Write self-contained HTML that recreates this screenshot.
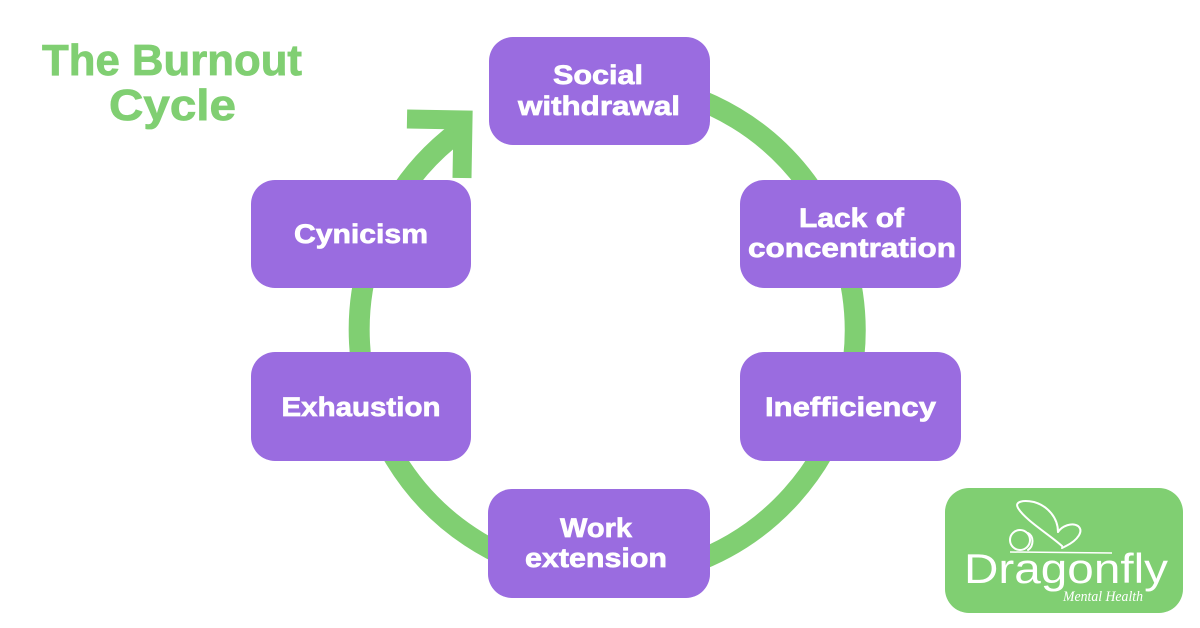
<!DOCTYPE html>
<html>
<head>
<meta charset="utf-8">
<style>
  html, body { margin: 0; padding: 0; background: #ffffff; }
  svg { display: block; }
  .t { font-family: "Liberation Sans", sans-serif; font-weight: bold; fill: #ffffff; font-size: 27px; stroke: #ffffff; stroke-width: 0.7px; }
  .title { font-family: "Liberation Sans", sans-serif; font-weight: bold; fill: #80cf72; font-size: 44px; stroke: #80cf72; stroke-width: 0.8px; }
</style>
</head>
<body>
<svg width="1200" height="628" viewBox="0 0 1200 628" xmlns="http://www.w3.org/2000/svg">
  <rect x="0" y="0" width="1200" height="628" fill="#ffffff"/>

  <!-- Title -->
  <text class="title" x="172" y="75" text-anchor="middle" textLength="260" lengthAdjust="spacingAndGlyphs">The Burnout</text>
  <text class="title" x="172.5" y="120" text-anchor="middle" textLength="127" lengthAdjust="spacingAndGlyphs">Cycle</text>

  <!-- Ring -->
  <path d="M 607 82 A 248 248 0 1 1 449 139 L 462 128" fill="none" stroke="#80cf72" stroke-width="21"/>
  <!-- Arrowhead -->
  <polyline points="407,119 463,120 462,178" fill="none" stroke="#80cf72" stroke-width="19" stroke-linejoin="miter" stroke-miterlimit="10"/>

  <!-- Boxes -->
  <g fill="#9a6ce0">
    <rect x="489" y="37" width="221" height="108" rx="24"/>
    <rect x="251" y="180" width="220" height="108" rx="24"/>
    <rect x="740" y="180" width="221" height="108" rx="24"/>
    <rect x="251" y="352" width="220" height="109" rx="24"/>
    <rect x="740" y="352" width="221" height="109" rx="24"/>
    <rect x="488" y="489" width="222" height="109" rx="24"/>
  </g>

  <!-- Box labels -->
  <text class="t" x="598" y="84" text-anchor="middle" textLength="90" lengthAdjust="spacingAndGlyphs">Social</text>
  <text class="t" x="599" y="115" text-anchor="middle" textLength="162" lengthAdjust="spacingAndGlyphs">withdrawal</text>

  <text class="t" x="361" y="243" text-anchor="middle" textLength="134" lengthAdjust="spacingAndGlyphs">Cynicism</text>

  <text class="t" x="851.5" y="227" text-anchor="middle" textLength="105" lengthAdjust="spacingAndGlyphs">Lack of</text>
  <text class="t" x="852" y="257" text-anchor="middle" textLength="208" lengthAdjust="spacingAndGlyphs">concentration</text>

  <text class="t" x="361" y="416" text-anchor="middle" textLength="159" lengthAdjust="spacingAndGlyphs">Exhaustion</text>

  <text class="t" x="850.5" y="416" text-anchor="middle" textLength="171" lengthAdjust="spacingAndGlyphs">Inefficiency</text>

  <text class="t" x="596" y="537" text-anchor="middle" textLength="72" lengthAdjust="spacingAndGlyphs">Work</text>
  <text class="t" x="596" y="567" text-anchor="middle" textLength="142" lengthAdjust="spacingAndGlyphs">extension</text>

  <!-- Logo -->
  <rect x="945" y="488" width="238" height="125" rx="24" fill="#80cf72"/>
  <g fill="none" stroke="#ffffff" stroke-width="2" stroke-linecap="round" stroke-linejoin="round">
    <!-- upper wing -->
    <path d="M 1062 546 C 1050 535, 1025 520, 1018 508 C 1014 501, 1024 500, 1034 502 C 1048 506, 1058 518, 1058 532"/>
    <!-- lower heart wing -->
    <path d="M 1058 532 C 1062 526, 1072 522, 1078 526 C 1084 531, 1078 540, 1066 546 L 1062 548"/>
    <!-- circle loops -->
    <circle cx="1020" cy="540" r="10"/>
    <path d="M 1028 533 C 1034 536, 1034 546, 1028 550"/>
  </g>
  <line x1="1010" y1="552" x2="1112" y2="553" stroke="#ffffff" stroke-width="1.5"/>
  <text x="964" y="583" font-family="Liberation Sans, sans-serif" font-size="42" fill="#ffffff" textLength="204" lengthAdjust="spacingAndGlyphs">Dragonfly</text>
  <text x="1063" y="601" font-family="Liberation Serif, serif" font-style="italic" font-size="15" fill="#ffffff" textLength="80" lengthAdjust="spacingAndGlyphs">Mental Health</text>
</svg>
</body>
</html>
